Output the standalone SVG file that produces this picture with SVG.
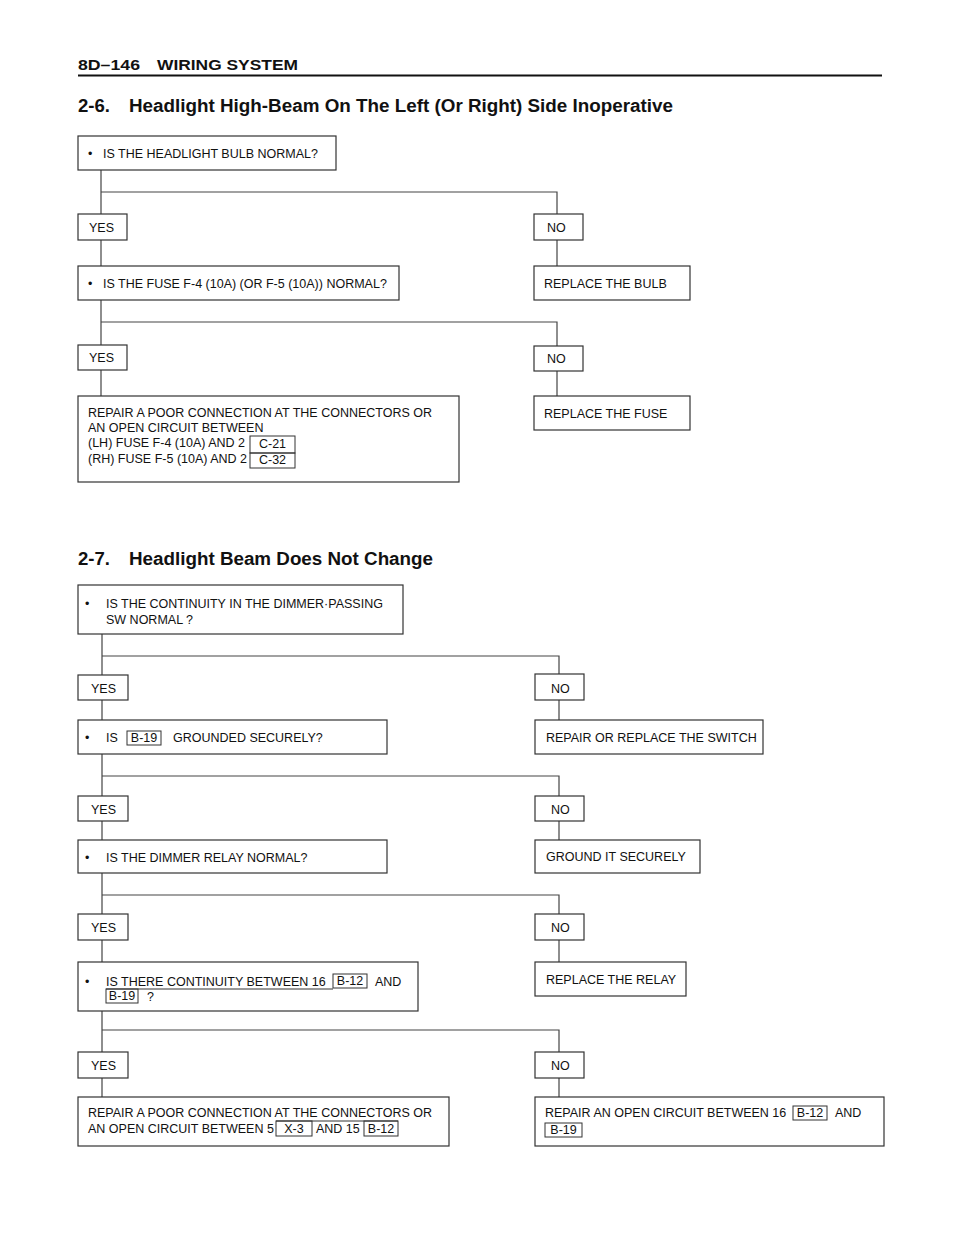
<svg xmlns="http://www.w3.org/2000/svg" width="960" height="1250" viewBox="0 0 960 1250">
<style>
.box{fill:#fff;stroke:#333;stroke-width:1.2}
.tag{fill:none;stroke:#333;stroke-width:1}
.t{font-family:"Liberation Sans",Arial,sans-serif;font-size:12.5px;fill:#111}
.tc{font-family:"Liberation Sans",Arial,sans-serif;font-size:12.5px;fill:#111;text-anchor:middle}
.h{font-family:"Liberation Sans",Arial,sans-serif;font-weight:bold;fill:#111}
.conn{stroke:#444;stroke-width:1.2;fill:none}
</style>
<rect width="960" height="1250" fill="#fff"/>
<g id="header">
<text class="h" x="78" y="70" font-size="15.5" textLength="62" lengthAdjust="spacingAndGlyphs">8D–146</text>
<text class="h" x="157" y="70" font-size="15.5" textLength="141" lengthAdjust="spacingAndGlyphs">WIRING SYSTEM</text>
<line x1="78" y1="75.5" x2="882" y2="75.5" stroke="#111" stroke-width="2"/>
<text class="h" x="78" y="112" font-size="18" textLength="32" lengthAdjust="spacingAndGlyphs">2-6.</text>
<text class="h" x="129" y="112" font-size="18" textLength="544" lengthAdjust="spacingAndGlyphs">Headlight High-Beam On The Left (Or Right) Side Inoperative</text>
<text class="h" x="78" y="565" font-size="18" textLength="32" lengthAdjust="spacingAndGlyphs">2-7.</text>
<text class="h" x="129" y="565" font-size="18" textLength="304" lengthAdjust="spacingAndGlyphs">Headlight Beam Does Not Change</text>
</g>
<g id="connectors">
<path class="conn" d="M101 170V214M101 240V266M101 300V345M101 370V396"/>
<path class="conn" d="M101 192H557V214M557 240V266"/>
<path class="conn" d="M101 322H557V346M557 371V396"/>
<path class="conn" d="M102 634V675M102 700V720M102 754V796M102 821V840M102 873V914M102 940V962M102 1011V1052M102 1078V1097"/>
<path class="conn" d="M102 656H559V674M559 700V720"/>
<path class="conn" d="M102 776H559V796M559 821V840"/>
<path class="conn" d="M102 895H559V914M559 940V962"/>
<path class="conn" d="M102 1030H559V1052M559 1078V1097"/>
</g>
<g id="q1">
<rect class="box" x="78" y="136" width="258" height="34"/>
<text class="t" x="88" y="158">•</text>
<text class="t" x="103" y="158">IS THE HEADLIGHT BULB NORMAL?</text>
</g>
<g id="yes1"><rect class="box" x="78" y="214" width="49" height="26"/><text class="t" x="89" y="232">YES</text></g>
<g id="no1"><rect class="box" x="534" y="214" width="49" height="26"/><text class="t" x="547" y="232">NO</text></g>
<g id="q2">
<rect class="box" x="78" y="266" width="321" height="34"/>
<text class="t" x="88" y="288">•</text>
<text class="t" x="103" y="288">IS THE FUSE F-4 (10A) (OR F-5 (10A)) NORMAL?</text>
</g>
<g id="a-bulb"><rect class="box" x="534" y="266" width="156" height="34"/><text class="t" x="544" y="288">REPLACE THE BULB</text></g>
<g id="yes2"><rect class="box" x="78" y="345" width="49" height="25"/><text class="t" x="89" y="362">YES</text></g>
<g id="no2"><rect class="box" x="534" y="346" width="49" height="25"/><text class="t" x="547" y="363">NO</text></g>
<g id="a-fuse"><rect class="box" x="534" y="396" width="156" height="34"/><text class="t" x="544" y="418">REPLACE THE FUSE</text></g>
<g id="a-repair1">
<rect class="box" x="78" y="396" width="381" height="86"/>
<text class="t" x="88" y="417">REPAIR A POOR CONNECTION AT THE CONNECTORS OR</text>
<text class="t" x="88" y="432">AN OPEN CIRCUIT BETWEEN</text>
<text class="t" x="88" y="447">(LH) FUSE F-4 (10A) AND 2</text>
<text class="t" x="88" y="463">(RH) FUSE F-5 (10A) AND 2</text>
<rect class="tag" x="250" y="436" width="45" height="17"/>
<rect class="tag" x="250" y="453" width="45" height="15"/>
<text class="tc" x="272.5" y="448">C-21</text>
<text class="tc" x="272.5" y="464">C-32</text>
</g>
<g id="qa">
<rect class="box" x="78" y="585" width="325" height="49"/>
<text class="t" x="85" y="608">•</text>
<text class="t" x="106" y="608">IS THE CONTINUITY IN THE DIMMER·PASSING</text>
<text class="t" x="106" y="624">SW NORMAL ?</text>
</g>
<g id="yes3"><rect class="box" x="78" y="675" width="50" height="25"/><text class="t" x="91" y="693">YES</text></g>
<g id="no3"><rect class="box" x="535" y="674" width="49" height="26"/><text class="t" x="551" y="693">NO</text></g>
<g id="qb">
<rect class="box" x="78" y="720" width="309" height="34"/>
<text class="t" x="85" y="742">•</text>
<text class="t" x="106" y="742">IS</text>
<rect class="tag" x="127" y="731" width="34" height="14"/>
<text class="tc" x="144" y="742">B-19</text>
<text class="t" x="173" y="742">GROUNDED SECURELY?</text>
</g>
<g id="a-switch"><rect class="box" x="535" y="720" width="228" height="34"/><text class="t" x="546" y="742">REPAIR OR REPLACE THE SWITCH</text></g>
<g id="yes4"><rect class="box" x="78" y="796" width="50" height="25"/><text class="t" x="91" y="814">YES</text></g>
<g id="no4"><rect class="box" x="535" y="796" width="49" height="25"/><text class="t" x="551" y="814">NO</text></g>
<g id="qc">
<rect class="box" x="78" y="840" width="309" height="33"/>
<text class="t" x="85" y="862">•</text>
<text class="t" x="106" y="862">IS THE DIMMER RELAY NORMAL?</text>
</g>
<g id="a-ground"><rect class="box" x="535" y="840" width="165" height="33"/><text class="t" x="546" y="861">GROUND IT SECURELY</text></g>
<g id="yes5"><rect class="box" x="78" y="914" width="50" height="26"/><text class="t" x="91" y="932">YES</text></g>
<g id="no5"><rect class="box" x="535" y="914" width="49" height="26"/><text class="t" x="551" y="932">NO</text></g>
<g id="qd">
<rect class="box" x="78" y="962" width="340" height="49"/>
<text class="t" x="85" y="986">•</text>
<text class="t" x="106" y="986">IS THERE CONTINUITY BETWEEN 16</text>
<rect class="tag" x="333" y="974" width="34" height="14"/>
<text class="tc" x="350" y="985">B-12</text>
<text class="t" x="375" y="986">AND</text>
<line class="tag" x1="106" y1="989" x2="333" y2="989"/>
<rect class="tag" x="106" y="989" width="32" height="14"/>
<text class="tc" x="122" y="1000">B-19</text>
<text class="t" x="147" y="1001">?</text>
</g>
<g id="a-relay"><rect class="box" x="535" y="962" width="151" height="34"/><text class="t" x="546" y="984">REPLACE THE RELAY</text></g>
<g id="yes6"><rect class="box" x="78" y="1052" width="50" height="26"/><text class="t" x="91" y="1070">YES</text></g>
<g id="no6"><rect class="box" x="535" y="1052" width="49" height="26"/><text class="t" x="551" y="1070">NO</text></g>
<g id="a-repair2">
<rect class="box" x="78" y="1097" width="371" height="49"/>
<text class="t" x="88" y="1117">REPAIR A POOR CONNECTION AT THE CONNECTORS OR</text>
<text class="t" x="88" y="1133">AN OPEN CIRCUIT BETWEEN 5</text>
<line class="tag" x1="276" y1="1121" x2="398" y2="1121"/>
<rect class="tag" x="276" y="1121" width="36" height="15"/>
<text class="tc" x="294" y="1133">X-3</text>
<text class="t" x="316" y="1133">AND 15</text>
<rect class="tag" x="364" y="1121" width="34" height="15"/>
<text class="tc" x="381" y="1133">B-12</text>
</g>
<g id="a-repair3">
<rect class="box" x="535" y="1097" width="349" height="49"/>
<text class="t" x="545" y="1117">REPAIR AN OPEN CIRCUIT BETWEEN 16</text>
<rect class="tag" x="793" y="1106" width="34" height="14"/>
<text class="tc" x="810" y="1117">B-12</text>
<text class="t" x="835" y="1117">AND</text>
<rect class="tag" x="545" y="1123" width="37" height="14"/>
<text class="tc" x="563.5" y="1134">B-19</text>
</g>
</svg>
